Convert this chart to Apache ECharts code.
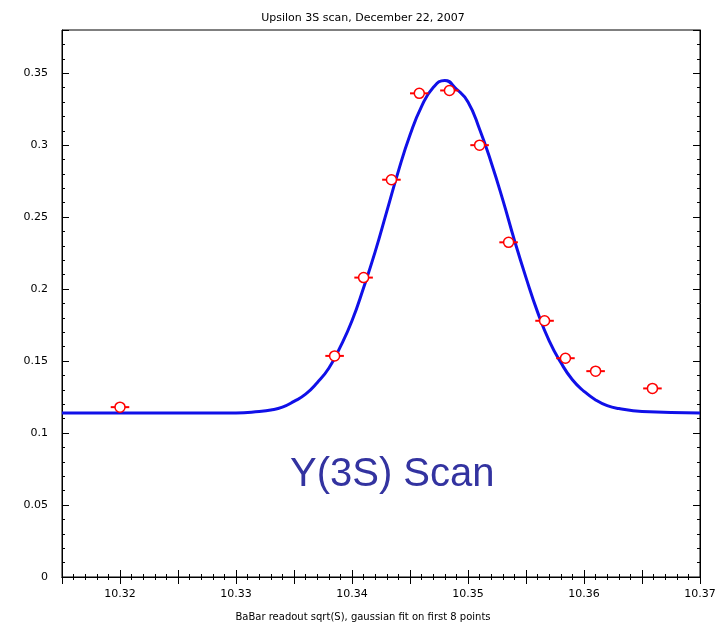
<!DOCTYPE html>
<html><head><meta charset="utf-8">
<script src="https://cdn.jsdelivr.net/npm/echarts@6/dist/echarts.min.js"></script>
<style>html,body{margin:0;padding:0;background:#fff}#c{width:726px;height:632px}</style>
</head><body><div id="c"></div>
<script>
const pointX = [10.3200,10.3385,10.3410,10.3434,10.3458,10.3484,10.3510,10.3535,10.3566,10.3584,10.3610,10.3659];
const pointY = [0.118,0.1536,0.208,0.276,0.336,0.338,0.300,0.2325,0.178,0.152,0.143,0.131];
const fitX = [10.315,10.330,10.332,10.333,10.334,10.335,10.336,10.337,10.338,10.339,10.340,10.341,10.342,10.343,10.344,10.345,10.346,10.347,10.348,10.349,10.350,10.351,10.352,10.353,10.354,10.355,10.356,10.357,10.358,10.359,10.360,10.361,10.362,10.363,10.365,10.370];
const fitY = [0.114,0.114,0.115,0.116,0.118,0.122,0.127,0.135,0.145,0.160,0.178,0.201,0.226,0.254,0.282,0.307,0.327,0.340,0.345,0.339,0.330,0.311,0.288,0.262,0.234,0.208,0.184,0.164,0.149,0.137,0.129,0.123,0.119,0.117,0.115,0.114];
const errHalf = 0.0008;

const chart = echarts.init(document.getElementById('c'));
const font = 'DejaVu Sans';
const line = {lineStyle:{color:'#000',width:1}};
const tick = {inside:true,length:7,lineStyle:{color:'#000'}};
const minor = {show:true,splitNumber:5,length:3,lineStyle:{color:'#000'}};
const xFmt = v=>{const m=Math.round(v*1000);return m%10===0?(m/1000).toFixed(2):'';};
const yFmt = v=>v>0.36?'':String(+v.toFixed(2));
const xBase = {type:'value',min:10.315,max:10.37,interval:0.005,axisLine:line,axisTick:tick,minorTick:minor,splitLine:{show:false}};
const yBase = {type:'value',min:0,max:0.38,interval:0.05,axisLine:line,axisTick:tick,minorTick:minor,splitLine:{show:false}};
chart.setOption({
  animation:false,
  title:{text:'Upsilon 3S scan, December 22, 2007',left:'center',top:8,textStyle:{fontSize:11,fontWeight:'normal',fontFamily:font,color:'#000'}},
  grid:{left:62,right:26,top:30,bottom:55,show:true,borderColor:'#000',borderWidth:1},
  graphic:[
    {type:'text',left:290,top:455,style:{text:'Υ(3S) Scan',font:'40px "Liberation Sans"',fill:'#3333a0'}},
    {type:'text',left:'center',top:612,style:{text:'BaBar readout sqrt(S), gaussian fit on first 8 points',font:'10px "DejaVu Sans"',fill:'#000'}}
  ],
  xAxis:[
    Object.assign({},xBase,{position:'bottom',axisLabel:{color:'#000',fontSize:11,fontFamily:font,margin:12,formatter:xFmt}}),
    Object.assign({},xBase,{position:'top',axisLabel:{show:false}})
  ],
  yAxis:[
    Object.assign({},yBase,{position:'left',axisLabel:{color:'#000',fontSize:11,fontFamily:font,margin:14,formatter:yFmt}}),
    Object.assign({},yBase,{position:'right',axisLabel:{show:false}})
  ],
  series:[
    {type:'line',data:fitX.map((x,i)=>[x,fitY[i]]),smooth:true,showSymbol:false,lineStyle:{color:'#1010e8',width:3}},
    {type:'custom',data:pointX.map((x,i)=>[x,pointY[i]]),z:4,renderItem:(p,api)=>{
      const a=api.coord([api.value(0)-errHalf,api.value(1)]);const b=api.coord([api.value(0)+errHalf,api.value(1)]);
      return {type:'line',shape:{x1:a[0],y1:a[1],x2:b[0],y2:b[1]},style:{stroke:'#ff0000',lineWidth:2}};}},
    {type:'scatter',data:pointX.map((x,i)=>[x,pointY[i]]),symbol:'circle',symbolSize:10,itemStyle:{color:'#ffffff',borderColor:'#ff0000',borderWidth:1.5,opacity:1},z:5}
  ]
});
</script></body></html>
